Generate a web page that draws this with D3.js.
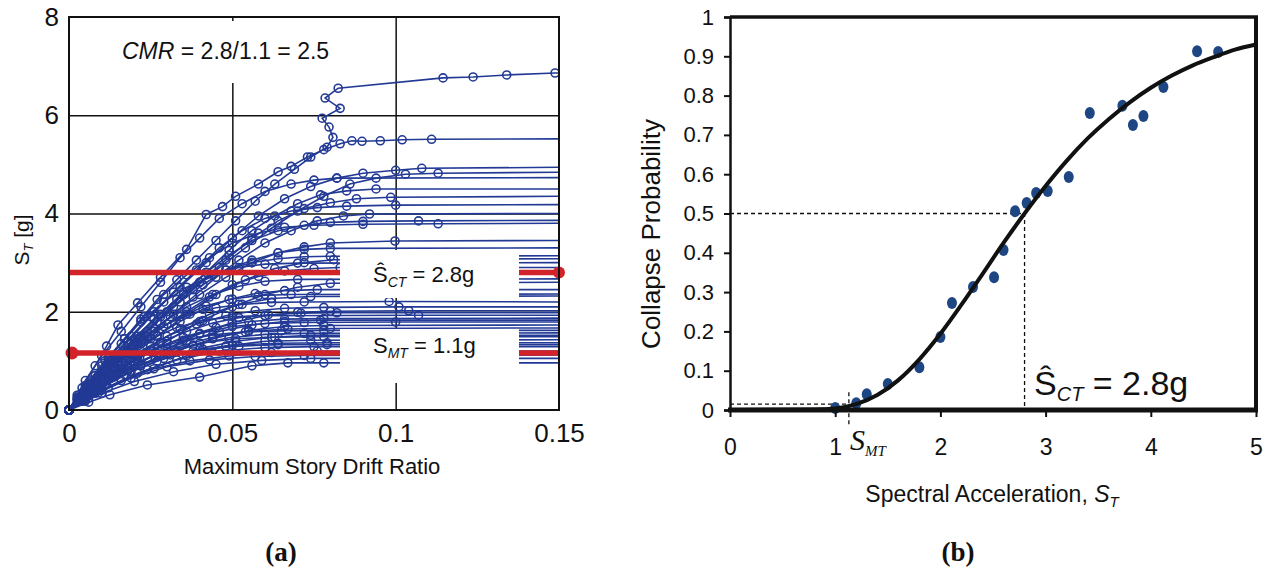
<!DOCTYPE html>
<html>
<head>
<meta charset="utf-8">
<script src="https://cdn.jsdelivr.net/npm/d3@7"></script>
<style>
body{margin:0;background:#fff}
svg{display:block}
text{font-family:"Liberation Sans",Arial,sans-serif;fill:#111}
</style>
</head>
<body>
<svg id="fig" width="1276" height="574"></svg>
<script>
// ---- panel (a) : IDA curves ----
let xTicksA = [0, 0.05, 0.1, 0.15]
let yTicksA = [0, 2, 4, 6, 8]
let gridXA = [0.05, 0.1]
let gridYA = [2, 4, 6]

// Sa at collapse (flat end of each record)
let idaCollapse = [6.86,5.52,4.94,4.84,4.73,4.35,4.18,3.86,3.8,3.45,3.14,3.08,3.0,2.67,2.6,2.36,2.32,2.1,2.02,1.93,1.87,1.79,1.73,1.67,1.57,1.49,1.43,1.37,1.29,1.12,0.96,
	4.5,4.0,3.3,2.9,2.45,2.2,1.98,1.83,1.62,1.52,1.33,1.2,1.05]

// [drift, Sa] points of each record
let idaPts = [
	[[0,0],[0.004,0.35],[0.008,0.7],[0.012,1.05],[0.017,1.45],[0.022,1.85],[0.027,2.25],[0.033,2.65],[0.039,3.05],[0.045,3.45],[0.051,3.85],[0.057,4.25],[0.063,4.6],[0.069,4.9],[0.074,5.15],[0.079,5.35],[0.0808,5.55],[0.0796,5.76],[0.0775,5.94],[0.083,6.14],[0.0784,6.35],[0.0824,6.55],[0.1145,6.76],[0.1237,6.78],[0.134,6.82],[0.1488,6.86]],
	[[0,0],[0.004,0.45],[0.008,0.9],[0.0115,1.3],[0.015,1.73],[0.021,2.18],[0.028,2.7],[0.036,3.27],[0.042,3.98],[0.047,4.14],[0.051,4.35],[0.058,4.6],[0.064,4.85],[0.068,4.96],[0.073,5.15],[0.078,5.3],[0.083,5.42],[0.0866,5.48],[0.0897,5.47],[0.0953,5.48],[0.102,5.5],[0.111,5.51]],
	[[0,0],[0.003,0.25],[0.006,0.5],[0.012,1.0],[0.019,1.5],[0.026,2.0],[0.034,2.5],[0.042,3.0],[0.05,3.5],[0.058,3.95],[0.066,4.3],[0.074,4.55],[0.082,4.72],[0.09,4.82],[0.1,4.88],[0.108,4.92]],
	[[0,0],[0.0035,0.25],[0.007,0.5],[0.014,1.0],[0.022,1.5],[0.03,2.0],[0.038,2.45],[0.046,2.9],[0.054,3.3],[0.062,3.7],[0.07,4.05],[0.078,4.35],[0.086,4.6],[0.094,4.72],[0.103,4.8],[0.113,4.82]],
	[[0,0],[0.0025,0.3],[0.005,0.6],[0.01,1.1],[0.016,1.6],[0.022,2.1],[0.028,2.6],[0.034,3.1],[0.04,3.5],[0.046,3.9],[0.053,4.2],[0.06,4.45],[0.068,4.6],[0.075,4.68],[0.082,4.72]],
	[[0,0],[0.004,0.3],[0.008,0.6],[0.016,1.1],[0.024,1.6],[0.032,2.1],[0.04,2.6],[0.048,3.05],[0.056,3.5],[0.064,3.85],[0.072,4.1],[0.08,4.22],[0.088,4.3],[0.0985,4.33]],
	[[0,0],[0.003,0.25],[0.006,0.5],[0.012,0.95],[0.018,1.4],[0.025,1.9],[0.032,2.4],[0.039,2.85],[0.046,3.3],[0.053,3.65],[0.06,3.9],[0.068,4.05],[0.076,4.12],[0.085,4.15],[0.1,4.17]],
	[[0,0],[0.0035,0.28],[0.007,0.55],[0.014,1.05],[0.021,1.5],[0.028,1.95],[0.035,2.4],[0.042,2.8],[0.049,3.15],[0.056,3.45],[0.064,3.65],[0.072,3.76],[0.08,3.82],[0.09,3.84],[0.107,3.85]],
	[[0,0],[0.0025,0.25],[0.005,0.5],[0.011,1.0],[0.017,1.45],[0.023,1.9],[0.029,2.35],[0.036,2.75],[0.043,3.1],[0.05,3.4],[0.058,3.6],[0.066,3.72],[0.075,3.76],[0.09,3.78],[0.113,3.79]],
	[[0,0],[0.004,0.28],[0.008,0.55],[0.016,1.05],[0.024,1.5],[0.032,1.95],[0.04,2.35],[0.048,2.7],[0.056,3.0],[0.064,3.2],[0.072,3.32],[0.08,3.4],[0.0998,3.44]],
	[[0,0],[0.003,0.25],[0.006,0.5],[0.012,0.95],[0.019,1.4],[0.026,1.85],[0.033,2.25],[0.04,2.6],[0.048,2.85],[0.056,3.0],[0.064,3.08],[0.072,3.12],[0.08,3.13]],
	[[0,0],[0.0045,0.3],[0.009,0.55],[0.018,1.05],[0.027,1.5],[0.036,1.95],[0.045,2.35],[0.054,2.65],[0.063,2.88],[0.072,3.0],[0.081,3.06]],
	[[0,0],[0.0025,0.22],[0.005,0.45],[0.01,0.9],[0.016,1.35],[0.022,1.8],[0.029,2.2],[0.036,2.5],[0.044,2.75],[0.052,2.9],[0.06,2.97],[0.07,2.99]],
	[[0,0],[0.0035,0.25],[0.007,0.5],[0.014,0.95],[0.021,1.35],[0.028,1.75],[0.036,2.1],[0.044,2.35],[0.052,2.52],[0.06,2.62],[0.07,2.66]],
	[[0,0],[0.005,0.3],[0.01,0.55],[0.02,1.0],[0.03,1.4],[0.04,1.8],[0.05,2.1],[0.06,2.35],[0.07,2.5],[0.08,2.58]],
	[[0,0],[0.003,0.22],[0.006,0.45],[0.012,0.85],[0.019,1.25],[0.026,1.6],[0.034,1.9],[0.042,2.12],[0.05,2.26],[0.058,2.33],[0.068,2.35]],
	[[0,0],[0.004,0.25],[0.008,0.5],[0.016,0.9],[0.025,1.3],[0.034,1.65],[0.043,1.95],[0.052,2.15],[0.062,2.27],[0.074,2.31]],
	[[0,0],[0.0035,0.22],[0.007,0.45],[0.014,0.85],[0.022,1.2],[0.03,1.5],[0.039,1.75],[0.048,1.92],[0.057,2.02],[0.066,2.07],[0.078,2.09],[0.101,2.1]],
	[[0,0],[0.005,0.28],[0.01,0.5],[0.02,0.9],[0.03,1.25],[0.04,1.55],[0.05,1.78],[0.06,1.92],[0.07,1.99],[0.08,2.01],[0.104,2.02]],
	[[0,0],[0.0025,0.2],[0.005,0.4],[0.011,0.8],[0.018,1.15],[0.025,1.45],[0.033,1.68],[0.041,1.82],[0.05,1.9],[0.06,1.92],[0.107,1.93]],
	[[0,0],[0.004,0.23],[0.008,0.45],[0.016,0.85],[0.025,1.2],[0.035,1.48],[0.045,1.68],[0.055,1.8],[0.066,1.85],[0.078,1.86]],
	[[0,0],[0.003,0.2],[0.006,0.4],[0.013,0.75],[0.021,1.08],[0.03,1.35],[0.04,1.56],[0.05,1.7],[0.06,1.76],[0.072,1.78],[0.1,1.79]],
	[[0,0],[0.0055,0.27],[0.011,0.5],[0.022,0.9],[0.033,1.2],[0.044,1.45],[0.055,1.62],[0.066,1.7],[0.078,1.72]],
	[[0,0],[0.0035,0.2],[0.007,0.4],[0.015,0.75],[0.024,1.05],[0.034,1.3],[0.044,1.48],[0.055,1.6],[0.067,1.65],[0.08,1.66]],
	[[0,0],[0.0045,0.23],[0.009,0.45],[0.018,0.8],[0.028,1.1],[0.038,1.32],[0.049,1.47],[0.06,1.54],[0.072,1.56]],
	[[0,0],[0.003,0.18],[0.006,0.35],[0.013,0.68],[0.021,0.98],[0.03,1.2],[0.04,1.36],[0.051,1.45],[0.063,1.48],[0.078,1.49]],
	[[0,0],[0.006,0.24],[0.012,0.45],[0.024,0.82],[0.036,1.1],[0.048,1.3],[0.06,1.4],[0.074,1.42]],
	[[0,0],[0.004,0.2],[0.008,0.38],[0.017,0.72],[0.027,1.0],[0.038,1.2],[0.05,1.32],[0.064,1.36],[0.079,1.37]],
	[[0,0],[0.005,0.21],[0.01,0.4],[0.021,0.75],[0.033,1.02],[0.046,1.2],[0.06,1.27],[0.075,1.29]],
	[[0,0],[0.0045,0.18],[0.009,0.35],[0.019,0.65],[0.03,0.88],[0.043,1.02],[0.057,1.09],[0.072,1.11]],
	[[0,0],[0.006,0.16],[0.0125,0.31],[0.024,0.51],[0.04,0.67],[0.056,0.9],[0.067,0.96],[0.078,0.96]],
	[[0,0],[0.004,0.3],[0.009,0.65],[0.015,1.05],[0.021,1.45],[0.028,1.9],[0.035,2.35],[0.042,2.8],[0.049,3.25],[0.056,3.65],[0.063,3.95],[0.07,4.2],[0.077,4.38],[0.085,4.46],[0.094,4.5]],
	[[0,0],[0.005,0.35],[0.01,0.7],[0.017,1.1],[0.024,1.5],[0.031,1.9],[0.038,2.3],[0.045,2.7],[0.052,3.05],[0.06,3.4],[0.068,3.65],[0.076,3.85],[0.084,3.95],[0.092,3.99]],
	[[0,0],[0.003,0.3],[0.007,0.6],[0.013,1.0],[0.02,1.4],[0.027,1.8],[0.034,2.2],[0.041,2.55],[0.048,2.85],[0.056,3.05],[0.064,3.2],[0.072,3.27],[0.08,3.29]],
	[[0,0],[0.004,0.28],[0.008,0.55],[0.015,0.95],[0.022,1.35],[0.029,1.7],[0.036,2.0],[0.043,2.3],[0.05,2.55],[0.058,2.72],[0.066,2.83],[0.075,2.88],[0.083,2.9]],
	[[0,0],[0.0035,0.25],[0.007,0.5],[0.013,0.85],[0.02,1.2],[0.027,1.52],[0.034,1.8],[0.041,2.05],[0.049,2.25],[0.057,2.37],[0.066,2.43],[0.076,2.45]],
	[[0,0],[0.003,0.25],[0.006,0.5],[0.011,0.85],[0.017,1.2],[0.023,1.5],[0.03,1.75],[0.037,1.95],[0.045,2.08],[0.053,2.15],[0.062,2.19],[0.072,2.2],[0.098,2.21]],
	[[0,0],[0.004,0.25],[0.008,0.48],[0.014,0.8],[0.021,1.1],[0.028,1.38],[0.036,1.6],[0.044,1.77],[0.052,1.88],[0.061,1.94],[0.071,1.97],[0.082,1.98]],
	[[0,0],[0.005,0.27],[0.01,0.5],[0.018,0.85],[0.027,1.15],[0.036,1.4],[0.046,1.6],[0.056,1.73],[0.066,1.8],[0.077,1.83]],
	[[0,0],[0.003,0.2],[0.006,0.38],[0.012,0.7],[0.019,1.0],[0.027,1.25],[0.035,1.42],[0.044,1.53],[0.054,1.59],[0.065,1.61],[0.078,1.62]],
	[[0,0],[0.005,0.25],[0.01,0.45],[0.019,0.78],[0.029,1.05],[0.04,1.25],[0.051,1.4],[0.062,1.48],[0.074,1.52]],
	[[0,0],[0.0035,0.2],[0.007,0.38],[0.014,0.68],[0.022,0.93],[0.031,1.12],[0.041,1.24],[0.052,1.3],[0.064,1.33],[0.079,1.33]],
	[[0,0],[0.004,0.18],[0.008,0.34],[0.016,0.6],[0.026,0.84],[0.037,1.0],[0.049,1.1],[0.062,1.17],[0.076,1.2]],
	[[0,0],[0.005,0.18],[0.01,0.34],[0.02,0.58],[0.032,0.78],[0.045,0.93],[0.059,1.01],[0.074,1.05]]
]

let sctLine = 2.8   // median collapse intensity
let smtLine = 1.16  // MCE intensity line as drawn

// ---- panel (b) : fragility ----
let xTicksB = [0, 1, 2, 3, 4, 5]
let yTicksB = [0, 0.1, 0.2, 0.3, 0.4, 0.5, 0.6, 0.7, 0.8, 0.9, 1]
let scSa = [1.0, 1.2, 1.3, 1.5, 1.8, 2.0, 2.11, 2.31, 2.51, 2.6, 2.71, 2.82, 2.91, 3.02, 3.22, 3.42, 3.73, 3.83, 3.93, 4.12, 4.44, 4.64]
let scP = [0.005, 0.017, 0.04, 0.066, 0.109, 0.186, 0.272, 0.313, 0.338, 0.407, 0.506, 0.527, 0.552, 0.557, 0.593, 0.756, 0.774, 0.725, 0.748, 0.822, 0.913, 0.911]
let fitSa = [0, 0.8, 1.0, 1.2, 1.4, 1.6, 1.8, 2.0, 2.2, 2.4, 2.6, 2.8, 3.0, 3.2, 3.4, 3.6, 3.8, 4.0, 4.2, 4.4, 4.6, 4.8, 5.0]
let fitP = [0, 0.001, 0.004, 0.015, 0.038, 0.076, 0.129, 0.194, 0.268, 0.346, 0.425, 0.5, 0.57, 0.634, 0.691, 0.74, 0.783, 0.82, 0.851, 0.877, 0.898, 0.917, 0.93]
let sctB = 2.8
let smtB = 1.13
let smtPB = 0.015

let blue = '#223a95'
let red = '#d2232a'

const svg = d3.select('#fig')

/* ================= panel (a) ================= */
const xA = d3.scaleLinear().domain([0, 0.15]).range([69, 559])
const yA = d3.scaleLinear().domain([0, 8]).range([410, 17])

const gA = svg.append('g')

// grid
gA.append('g')
	.attr('transform', `translate(0,410)`)
	.call(d3.axisBottom(xA).tickValues(gridXA).tickSize(-393).tickFormat(''))
	.call(g => g.select('.domain').remove())
	.selectAll('line').attr('stroke', '#111').attr('stroke-width', 1.5)
gA.append('g')
	.attr('transform', `translate(69,0)`)
	.call(d3.axisLeft(yA).tickValues(gridYA).tickSize(-490).tickFormat(''))
	.call(g => g.select('.domain').remove())
	.selectAll('line').attr('stroke', '#111').attr('stroke-width', 1.5)

const line = d3.line().x(d => xA(d[0])).y(d => yA(d[1]))

const recs = gA.selectAll('.rec')
	.data(idaPts.map((p, i) => ({pts: p, col: idaCollapse[i]})))
	.enter()
	.append('g')
	.classed('rec', true)

recs.append('path')
	.attr('d', d => line(d.pts.concat([[0.15, d.col]])))
	.attr('fill', 'none')
	.attr('stroke', blue)
	.attr('stroke-width', 1.6)

recs.selectAll('circle')
	.data(d => d.pts)
	.enter()
	.append('circle')
	.attr('cx', d => xA(d[0]))
	.attr('cy', d => yA(d[1]))
	.attr('r', 4)
	.attr('fill', 'none')
	.attr('stroke', blue)
	.attr('stroke-width', 1.6)

// red intensity lines
gA.selectAll('.redline')
	.data([sctLine, smtLine])
	.enter()
	.append('line')
	.attr('x1', xA(0)).attr('x2', xA(0.15))
	.attr('y1', d => yA(d)).attr('y2', d => yA(d))
	.attr('stroke', red)
	.attr('stroke-width', 5.5)

// white label boxes
gA.append('rect').attr('x', 340).attr('y', 250).attr('width', 179).attr('height', 48).attr('fill', '#fff')
gA.append('rect').attr('x', 340).attr('y', 329).attr('width', 179).attr('height', 54).attr('fill', '#fff')
gA.append('rect').attr('x', 110).attr('y', 21).attr('width', 235).attr('height', 62).attr('fill', '#fff')

gA.append('circle').attr('cx', xA(0.15)).attr('cy', yA(sctLine)).attr('r', 6).attr('fill', red)
gA.append('circle').attr('cx', xA(0) + 3).attr('cy', yA(smtLine)).attr('r', 6.5).attr('fill', red)

// frame
gA.append('rect').attr('x', 69).attr('y', 17).attr('width', 490).attr('height', 393)
	.attr('fill', 'none').attr('stroke', '#111').attr('stroke-width', 2)

// axes labels
gA.append('g')
	.attr('transform', `translate(0,410)`)
	.call(d3.axisBottom(xA).tickValues(xTicksA).tickSize(0).tickPadding(14).tickFormat(d => String(d)))
	.call(g => g.select('.domain').remove())
	.selectAll('text').attr('font-size', 26).attr('font-family', '"Liberation Sans",Arial,sans-serif').attr('fill', '#111')
gA.append('g')
	.attr('transform', `translate(69,0)`)
	.call(d3.axisLeft(yA).tickValues(yTicksA).tickSize(0).tickPadding(10).tickFormat(d => String(d)))
	.call(g => g.select('.domain').remove())
	.selectAll('text').attr('font-size', 26).attr('font-family', '"Liberation Sans",Arial,sans-serif').attr('fill', '#111')

svg.append('text').attr('x', 312).attr('y', 474).attr('text-anchor', 'middle').attr('font-size', 22)
	.text('Maximum Story Drift Ratio')

svg.append('text').attr('transform', 'translate(29,240) rotate(-90)').attr('text-anchor', 'middle').attr('font-size', 21)
	.call(t => {
		t.append('tspan').text('S')
		t.append('tspan').attr('font-size', 13).attr('font-style', 'italic').attr('dy', 4).text('T')
		t.append('tspan').attr('dy', -4).text('\u00a0[g]')
	})

svg.append('text').attr('x', 122).attr('y', 59).attr('font-size', 23)
	.call(t => {
		t.append('tspan').attr('font-style', 'italic').text('CMR')
		t.append('tspan').text('\u00a0= 2.8/1.1 = 2.5')
	})

svg.append('text').attr('x', 373).attr('y', 282).attr('font-size', 22)
	.call(t => {
		t.append('tspan').text('Ŝ')
		t.append('tspan').attr('font-size', 14).attr('font-style', 'italic').attr('dy', 5).text('CT')
		t.append('tspan').attr('dy', -5).text('\u00a0= 2.8g')
	})
svg.append('text').attr('x', 373).attr('y', 353).attr('font-size', 22)
	.call(t => {
		t.append('tspan').text('S')
		t.append('tspan').attr('font-size', 14).attr('font-style', 'italic').attr('dy', 5).text('MT')
		t.append('tspan').attr('dy', -5).text('\u00a0= 1.1g')
	})

svg.append('text').attr('x', 281).attr('y', 561).attr('text-anchor', 'middle')
	.attr('font-size', 27).attr('font-weight', 'bold').style('font-family', '"Liberation Serif","Times New Roman",serif')
	.text('(a)')

/* ================= panel (b) ================= */
const xB = d3.scaleLinear().domain([0, 5]).range([730, 1256])
const yB = d3.scaleLinear().domain([0, 1]).range([410, 17])
const gB = svg.append('g')

// dashed guides
const dash = '4,3'
gB.append('path')
	.attr('d', `M${xB(0)},${yB(0.5)}H${xB(sctB)}V${yB(0)}`)
	.attr('fill', 'none').attr('stroke', '#111').attr('stroke-width', 1.3).attr('stroke-dasharray', dash)
gB.append('path')
	.attr('d', `M${xB(0)},${yB(smtPB)}H${xB(smtB)}`)
	.attr('fill', 'none').attr('stroke', '#111').attr('stroke-width', 1.3).attr('stroke-dasharray', dash)
gB.append('path')
	.attr('d', `M${xB(smtB)},${yB(0.045)}V${yB(-0.043)}`)
	.attr('fill', 'none').attr('stroke', '#111').attr('stroke-width', 1.3).attr('stroke-dasharray', dash)

// scatter
gB.selectAll('.dot')
	.data(scSa.map((s, i) => [s, scP[i]]))
	.enter()
	.append('ellipse')
	.classed('dot', true)
	.attr('cx', d => xB(d[0]))
	.attr('cy', d => yB(d[1]))
	.attr('rx', 5)
	.attr('ry', 6)
	.attr('fill', '#1d4682')

// fitted curve
gB.append('path')
	.datum(fitSa.map((s, i) => [s, fitP[i]]))
	.attr('d', d3.line().x(d => xB(d[0])).y(d => yB(d[1])).curve(d3.curveMonotoneX))
	.attr('fill', 'none')
	.attr('stroke', '#111')
	.attr('stroke-width', 4)

// axes
gB.append('g')
	.attr('transform', `translate(${xB(0)},0)`)
	.call(d3.axisLeft(yB).tickValues(yTicksB).tickSize(6).tickPadding(10).tickFormat(d => String(d)))
	.call(g => g.select('.domain').attr('stroke', '#111').attr('stroke-width', 2.5))
	.call(g => g.selectAll('line').attr('stroke', '#111').attr('stroke-width', 2))
	.selectAll('text').attr('font-size', 22).attr('font-family', '"Liberation Sans",Arial,sans-serif').attr('fill', '#111')

gB.append('g')
	.attr('transform', `translate(0,${yB(0)})`)
	.call(d3.axisBottom(xB).tickValues(xTicksB).tickSize(7).tickPadding(22).tickFormat(d => String(d)))
	.call(g => g.select('.domain').remove())
	.call(g => g.selectAll('line').attr('stroke', '#111').attr('stroke-width', 2))
	.selectAll('text').attr('font-size', 23).attr('font-family', '"Liberation Sans",Arial,sans-serif').attr('fill', '#111')

gB.append('line').attr('x1', xB(0) - 2).attr('x2', xB(5) + 2).attr('y1', yB(0)).attr('y2', yB(0))
	.attr('stroke', '#111').attr('stroke-width', 5)
gB.append('line').attr('x1', xB(0)).attr('x2', xB(5) + 2).attr('y1', yB(1)).attr('y2', yB(1))
	.attr('stroke', '#111').attr('stroke-width', 3.5)
gB.append('line').attr('x1', xB(5)).attr('x2', xB(5)).attr('y1', yB(1)).attr('y2', yB(0))
	.attr('stroke', '#111').attr('stroke-width', 4)

svg.append('text').attr('transform', 'translate(660,234) rotate(-90)').attr('text-anchor', 'middle').attr('font-size', 26)
	.text('Collapse Probability')

svg.append('text').attr('x', 992).attr('y', 502).attr('text-anchor', 'middle').attr('font-size', 23)
	.call(t => {
		t.append('tspan').text('Spectral Acceleration,\u00a0')
		t.append('tspan').attr('font-style', 'italic').text('S')
		t.append('tspan').attr('font-style', 'italic').attr('font-size', 15).attr('dy', 5).text('T')
	})

svg.append('text').attr('x', 1034).attr('y', 395).attr('font-size', 34)
	.call(t => {
		t.append('tspan').text('Ŝ')
		t.append('tspan').attr('font-size', 20).attr('font-style', 'italic').attr('dy', 6).text('CT')
		t.append('tspan').attr('dy', -6).text('\u00a0= 2.8g')
	})

svg.append('text').attr('x', 850).attr('y', 450)
	.style('font-family', '"Liberation Serif","Times New Roman",serif').attr('font-style', 'italic').attr('font-size', 30)
	.call(t => {
		t.append('tspan').text('S')
		t.append('tspan').attr('font-size', 15).attr('dy', 6).text('MT')
	})

svg.append('text').attr('x', 958).attr('y', 561).attr('text-anchor', 'middle')
	.attr('font-size', 27).attr('font-weight', 'bold').style('font-family', '"Liberation Serif","Times New Roman",serif')
	.text('(b)')
</script>
</body>
</html>
